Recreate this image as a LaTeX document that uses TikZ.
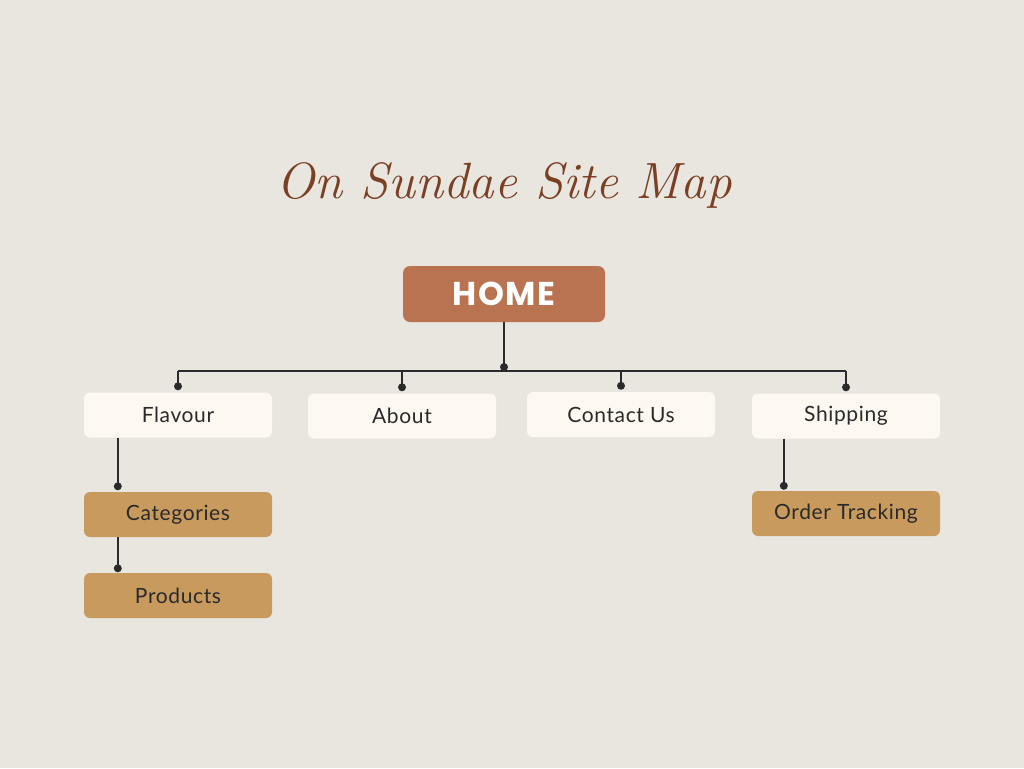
\documentclass[tikz,border=0pt]{standalone}
\usepackage{fontspec}
\setmainfont{Lato}[LetterSpace=3]
\newfontfamily\headfont{Poppins}[UprightFont=* Bold, LetterSpace=4]
\definecolor{paper}{HTML}{E9E6E0}
\definecolor{homefill}{HTML}{B97350}
\definecolor{pagefill}{HTML}{FDF8F0}
\definecolor{subfill}{HTML}{C89A5D}
\definecolor{titlebrown}{HTML}{7B3F24}
\definecolor{ink}{HTML}{2A2A2A}
\tikzset{
  pagebox/.style={rounded corners=6pt, fill=pagefill, minimum width=188pt, minimum height=45pt,
    inner sep=0pt, text=ink, font=\fontsize{21}{25}\selectfont},
  subbox/.style={pagebox, fill=subfill},
  homebox/.style={rounded corners=7pt, fill=homefill, minimum width=202pt, minimum height=56pt,
    inner sep=0pt, text=white, font=\headfont\fontsize{33}{38}\selectfont},
  link/.style={draw=ink, line width=2.2pt},
  joint/.style={circle, fill=ink, inner sep=0pt, minimum size=8pt},
}
\begin{document}
\begin{tikzpicture}[x=1pt,y=-1pt]
  % paper background
  \fill[paper] (0,0) rectangle (1024,768);
  \useasboundingbox (0,0) rectangle (1024,768);

  % heading
  \node[text=titlebrown, font=\fontspec{Latin Modern Roman}\itshape\fontsize{51}{58}\selectfont]
    (title) at (504,185) {On Sundae Site Map};

  % top page
  \node[homebox] (home) at (504,294) {HOME};

  % first level pages
  \node[pagebox] (flavour)  at (178,415) {Flavour};
  \node[pagebox] (about)    at (402,416) {About};
  \node[pagebox] (contact)  at (621,414.5) {Contact Us};
  \node[pagebox] (shipping) at (846,416) {Shipping};

  % second level pages
  \node[subbox] (categories) at (178,514.5) {Categories};
  \node[subbox] (products)   at (178,595.5) {Products};
  \node[subbox] (tracking)   at (846,513.5) {Order Tracking};

  % branch line below HOME
  \coordinate (bus) at (504,371);
  \draw[link] (home.south) -- (bus);
  \node[joint] (homejoint) at (504,367) {};
  \draw[link] (flavour.north |- bus) -- (shipping.north |- bus);

  % drops to the first level
  \foreach \p in {flavour, about, contact, shipping}{
    \coordinate (\p-in) at ([yshift=6pt]\p.north);
    \draw[link] (\p.north |- bus) -- (\p-in);
    \node[joint] at (\p-in) {};
  }

  % side branches to the second level
  \coordinate (categories-in) at ([xshift=34pt,yshift=5.5pt]categories.north west);
  \draw[link] (flavour.south west -| categories-in) -- (categories-in);
  \node[joint] at (categories-in) {};

  \coordinate (products-in) at ([xshift=34pt,yshift=4.5pt]products.north west);
  \draw[link] (categories.south west -| products-in) -- (products-in);
  \node[joint] at (products-in) {};

  \coordinate (tracking-in) at ([xshift=32pt,yshift=5pt]tracking.north west);
  \draw[link] (shipping.south west -| tracking-in) -- (tracking-in);
  \node[joint] at (tracking-in) {};
\end{tikzpicture}
\end{document}
